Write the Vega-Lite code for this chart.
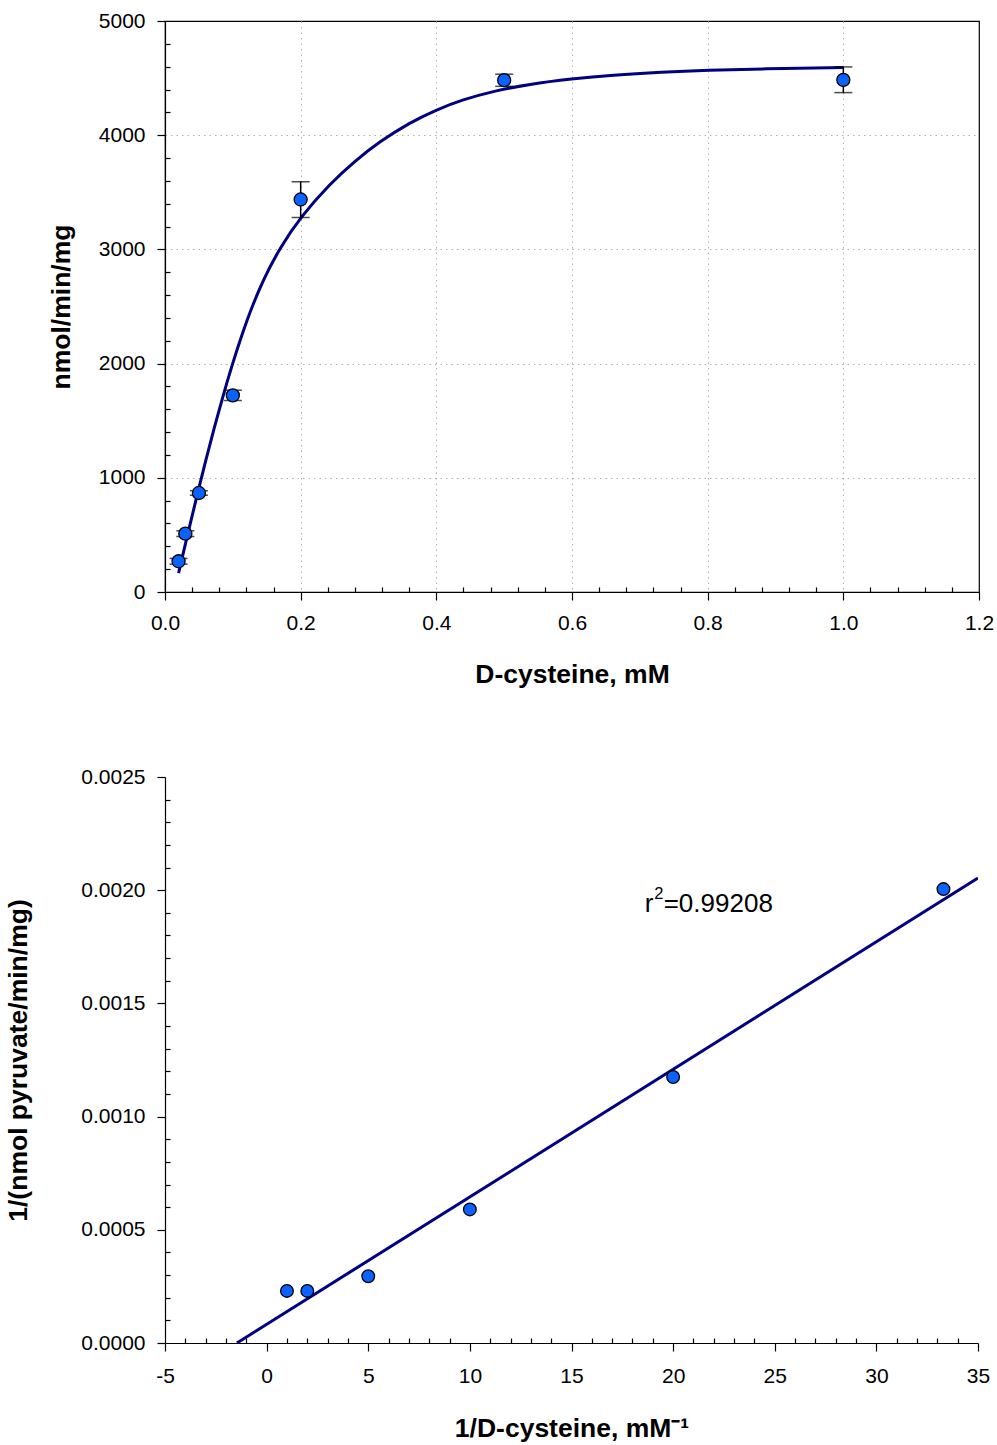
{
  "$schema": "https://vega.github.io/schema/vega-lite/v6.json",
  "background": "white",
  "padding": {"left": 5, "top": 9, "right": 5, "bottom": 5},
  "spacing": 77,
  "config": {
    "font": "Liberation Sans",
    "axis": {
      "labelFont": "Liberation Sans", "labelFontSize": 21, "labelColor": "black",
      "titleFont": "Liberation Sans", "titleFontSize": 26.5, "titleFontWeight": "bold", "titleColor": "black",
      "domainColor": "black", "domainWidth": 1.2, "tickColor": "black", "tickWidth": 1.2,
      "labelOverlap": false, "labelFlush": false, "labelPadding": 12
    }
  },
  "datasets": {
    "kin": [
      {"x": 0.02, "y": 269, "lo": 244, "hi": 294},
      {"x": 0.03, "y": 511, "lo": 486, "hi": 536},
      {"x": 0.05, "y": 867, "lo": 847, "hi": 887},
      {"x": 0.1, "y": 1722, "lo": 1677, "hi": 1767},
      {"x": 0.2, "y": 3437, "lo": 3280, "hi": 3592},
      {"x": 0.5, "y": 4482, "lo": 4428, "hi": 4534},
      {"x": 1.0, "y": 4485, "lo": 4373, "hi": 4598}
    ],
    "fit": [
      {"x": 0.02, "y": 165}, {"x": 0.03, "y": 420}, {"x": 0.04, "y": 668},
      {"x": 0.05, "y": 912}, {"x": 0.06, "y": 1150}, {"x": 0.072, "y": 1425},
      {"x": 0.085, "y": 1705}, {"x": 0.0966, "y": 1945}, {"x": 0.121, "y": 2395},
      {"x": 0.145, "y": 2740}, {"x": 0.17, "y": 3020}, {"x": 0.2, "y": 3285},
      {"x": 0.243, "y": 3575}, {"x": 0.28, "y": 3775}, {"x": 0.316, "y": 3942},
      {"x": 0.36, "y": 4108}, {"x": 0.4, "y": 4223}, {"x": 0.438, "y": 4310},
      {"x": 0.487, "y": 4390}, {"x": 0.536, "y": 4446}, {"x": 0.6, "y": 4494},
      {"x": 0.659, "y": 4527}, {"x": 0.733, "y": 4553}, {"x": 0.8, "y": 4569},
      {"x": 0.88, "y": 4581}, {"x": 1.0, "y": 4592}
    ],
    "lb": [
      {"x": 1, "y": 0.00023}, {"x": 2, "y": 0.00023}, {"x": 5, "y": 0.000295},
      {"x": 10, "y": 0.00059}, {"x": 20, "y": 0.001175}, {"x": 33.3, "y": 0.002005}
    ],
    "lbfit": [{"x": -1.46, "y": 0}, {"x": 35, "y": 0.002054}],
    "note": [{"x": 18.6, "y": 0.00194, "r": "r", "sup": "2", "rest": "=0.99208"}]
  },
  "vconcat": [
    {
      "width": 814, "height": 571,
      "view": {"stroke": "black", "strokeWidth": 1.2},
      "encoding": {
        "x": {
          "field": "x", "type": "quantitative",
          "scale": {"domain": [0, 1.2], "nice": false, "zero": false},
          "axis": {
            "title": "D-cysteine, mM", "titlePadding": 28, "format": ".1f",
            "values": [0,0.04,0.08,0.12,0.16,0.2,0.24,0.28,0.32,0.36,0.4,0.44,0.48,0.52,0.56,0.6,0.64,0.68,0.72,0.76,0.8,0.84,0.88,0.92,0.96,1.0,1.04,1.08,1.12,1.16,1.2],
            "labelExpr": "abs(datum.value*5 - round(datum.value*5)) < 0.000001 ? datum.label : ''",
            "tickSize": {"condition": {"test": "abs(datum.value*5 - round(datum.value*5)) < 0.000001", "value": 8}, "value": -5},
            "grid": true, "gridColor": "#b0b0b0", "gridDash": [1.5, 4], "gridWidth": 1,
            "gridOpacity": {"condition": {"test": "abs(datum.value*5 - round(datum.value*5)) < 0.000001 && datum.value > 0.01 && datum.value < 1.19", "value": 1}, "value": 0}
          }
        },
        "y": {
          "type": "quantitative",
          "scale": {"domain": [0, 5000], "nice": false},
          "axis": {
            "title": "nmol/min/mg", "titlePadding": 23,
            "values": [0,200,400,600,800,1000,1200,1400,1600,1800,2000,2200,2400,2600,2800,3000,3200,3400,3600,3800,4000,4200,4400,4600,4800,5000],
            "labelExpr": "datum.value % 1000 == 0 ? datum.label : ''",
            "format": "d",
            "tickSize": {"condition": {"test": "datum.value % 1000 == 0", "value": 8}, "value": -5},
            "grid": true, "gridColor": "#b0b0b0", "gridDash": [1.5, 4], "gridWidth": 1,
            "gridOpacity": {"condition": {"test": "datum.value % 1000 == 0 && datum.value > 0 && datum.value < 5000", "value": 1}, "value": 0}
          }
        }
      },
      "layer": [
        {
          "data": {"name": "fit"},
          "mark": {"type": "line", "color": "#000080", "strokeWidth": 3, "interpolate": "basis"},
          "encoding": {"y": {"field": "y", "type": "quantitative"}}
        },
        {
          "data": {"name": "kin"},
          "mark": {"type": "rule", "color": "black", "strokeWidth": 1.5},
          "encoding": {"y": {"field": "lo", "type": "quantitative"}, "y2": {"field": "hi"}}
        },
        {
          "data": {"name": "kin"},
          "mark": {"type": "tick", "orient": "horizontal", "color": "black", "size": 18, "thickness": 1.5},
          "encoding": {"y": {"field": "lo", "type": "quantitative"}}
        },
        {
          "data": {"name": "kin"},
          "mark": {"type": "tick", "orient": "horizontal", "color": "black", "size": 18, "thickness": 1.5},
          "encoding": {"y": {"field": "hi", "type": "quantitative"}}
        },
        {
          "data": {"name": "kin"},
          "mark": {"type": "point", "filled": true, "fill": "#0a62ff", "stroke": "black", "strokeWidth": 1.3, "size": 170, "opacity": 1},
          "encoding": {"y": {"field": "y", "type": "quantitative"}}
        }
      ]
    },
    {
      "width": 813, "height": 566,
      "view": {"stroke": null},
      "encoding": {
        "x": {
          "field": "x", "type": "quantitative",
          "scale": {"domain": [-5, 35], "nice": false, "zero": false},
          "axis": {
            "title": "1/D-cysteine, mM⁻¹", "titlePadding": 29, "labelPadding": 14,
            "values": [-5,-4,-3,-2,-1,0,1,2,3,4,5,6,7,8,9,10,11,12,13,14,15,16,17,18,19,20,21,22,23,24,25,26,27,28,29,30,31,32,33,34,35],
            "labelExpr": "datum.value % 5 == 0 ? '' + datum.value : ''",
            "tickSize": {"condition": {"test": "datum.value % 5 == 0", "value": 8}, "value": -5},
            "grid": false
          }
        },
        "y": {
          "type": "quantitative",
          "scale": {"domain": [0, 0.0025], "nice": false},
          "axis": {
            "title": "1/(nmol pyruvate/min/mg)", "titlePadding": 48, "format": ".4f",
            "values": [0,0.0001,0.0002,0.0003,0.0004,0.0005,0.0006,0.0007,0.0008,0.0009,0.001,0.0011,0.0012,0.0013,0.0014,0.0015,0.0016,0.0017,0.0018,0.0019,0.002,0.0021,0.0022,0.0023,0.0024,0.0025],
            "labelExpr": "abs(datum.value*2000 - round(datum.value*2000)) < 0.000001 ? datum.label : ''",
            "tickSize": {"condition": {"test": "abs(datum.value*2000 - round(datum.value*2000)) < 0.000001", "value": 8}, "value": -5},
            "grid": false
          }
        }
      },
      "layer": [
        {
          "data": {"name": "lbfit"},
          "mark": {"type": "line", "color": "#000080", "strokeWidth": 3, "clip": true},
          "encoding": {"y": {"field": "y", "type": "quantitative"}}
        },
        {
          "data": {"name": "lb"},
          "mark": {"type": "point", "filled": true, "fill": "#0a62ff", "stroke": "black", "strokeWidth": 1.3, "size": 160, "opacity": 1},
          "encoding": {"y": {"field": "y", "type": "quantitative"}}
        },
        {
          "data": {"name": "note"},
          "mark": {"type": "text", "align": "left", "baseline": "middle", "fontSize": 26, "font": "Liberation Sans", "color": "black"},
          "encoding": {"y": {"field": "y", "type": "quantitative"}, "text": {"field": "r"}}
        },
        {
          "data": {"name": "note"},
          "mark": {"type": "text", "align": "left", "baseline": "middle", "fontSize": 16.5, "font": "Liberation Sans", "color": "black", "dx": 9.5, "dy": -9.5},
          "encoding": {"y": {"field": "y", "type": "quantitative"}, "text": {"field": "sup"}}
        },
        {
          "data": {"name": "note"},
          "mark": {"type": "text", "align": "left", "baseline": "middle", "fontSize": 26, "font": "Liberation Sans", "color": "black", "dx": 19},
          "encoding": {"y": {"field": "y", "type": "quantitative"}, "text": {"field": "rest"}}
        }
      ]
    }
  ]
}
